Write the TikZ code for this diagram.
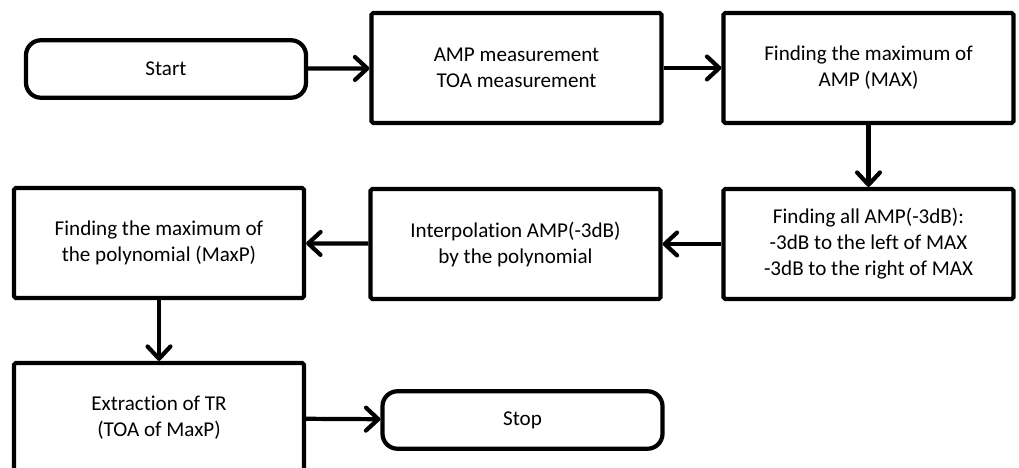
\documentclass[tikz,border=0pt]{standalone}
\usepackage{fontspec}
\setmainfont{Carlito}[Ligatures=NoCommon]
\usetikzlibrary{arrows.meta}

\begin{document}
\begin{tikzpicture}[
    stepbox/.style={rectangle, draw, line width=2.4pt, rounded corners=1pt, minimum width=5.8cm, minimum height=2.2cm, align=center, font=\fontsize{12}{14.8}\selectfont},
    termbox/.style={rectangle, draw, line width=2.4pt, rounded corners=0.3cm, minimum width=5.6cm, minimum height=1.15cm, align=center, font=\fontsize{12}{14.8}\selectfont},
    flow/.style={line width=2.4pt, -{Straight Barb[length=7pt, width=13pt, round]}}
  ]
    \useasboundingbox (0, 0) rectangle (20.38, 9.36);

    % 処理ブロック
    \node[termbox] (start) at (3.32, 7.98) {Start};
    \node[stepbox] (meas) at (10.33, 8.0) {AMP measurement\\TOA measurement};
    \node[stepbox] (findmax) at (17.37, 8.0) {Finding the maximum of\\AMP (MAX)};
    \node[stepbox] (find3db) at (17.37, 4.48) {Finding all AMP(-3dB):\\-3dB to the left of MAX\\-3dB to the right of MAX};
    \node[stepbox] (interp) at (10.31, 4.48) {Interpolation AMP(-3dB)\\by the polynomial};
    \node[stepbox] (maxp) at (3.18, 4.5) {Finding the maximum of\\the polynomial (MaxP)};
    \node[stepbox] (extract) at (3.18, 1.0) {Extraction of TR\\(TOA of MaxP)};
    \node[termbox] (stop) at (10.45, 0.96) {Stop};

    % 矢印
    \draw[flow] (start) -- (meas);
    \draw[flow] (meas) -- (findmax);
    \draw[flow] (findmax) -- (find3db);
    \draw[flow] (find3db) -- (interp);
    \draw[flow] (interp) -- (maxp);
    \draw[flow] (maxp) -- (extract);
    \draw[flow] (extract) -- (stop);
  \end{tikzpicture}
\end{document}
